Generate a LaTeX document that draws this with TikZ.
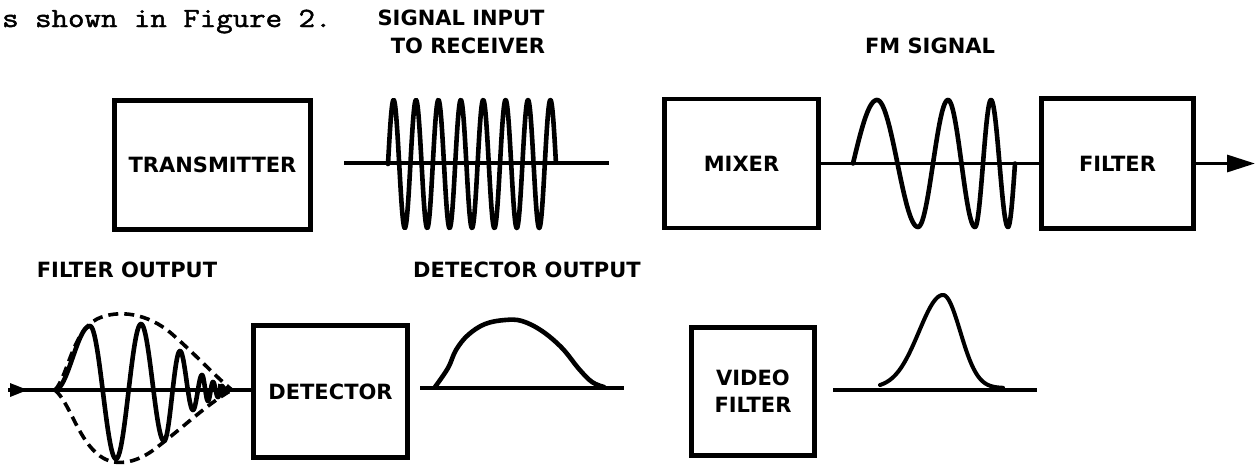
\documentclass[tikz,border=0pt]{standalone}
\usepackage{fontspec}
\usepackage{graphicx}
\newfontfamily\lblfont{DejaVu Sans}
\newfontfamily\introfont{Latin Modern Mono}[FakeBold=1.6]
\usetikzlibrary{arrows.meta}
\tikzset{
  lbl/.style={font=\lblfont\bfseries\fontsize{21}{27}\selectfont, inner sep=0pt},
  introtext/.style={font=\introfont\fontsize{27.8}{30}\selectfont, inner sep=0pt},
  blockbox/.style={draw, line width=4.6pt, inner sep=0pt, align=center,
    font=\lblfont\bfseries\fontsize{21}{27}\selectfont},
  wave/.style={line width=4.6pt, line join=round, line cap=round},
  thinwave/.style={line width=4pt, line join=round, line cap=round},
  baseln/.style={line width=3.2pt},
  envl/.style={line width=3.6pt, dash pattern=on 10pt off 6pt},
}
\begin{document}
\begin{tikzpicture}[x=1pt,y=-1pt]
\fill[white] (0,0) rectangle (1256,464);
\useasboundingbox (0,0) rectangle (1256,464);

% texts
\node[introtext, anchor=base west] (intro) at (2,27) {\scalebox{1.15}[1]{s shown in Figure 2.}};
\node[lbl, anchor=base] (lsig) at (461,25) {SIGNAL INPUT};
\node[lbl, anchor=base] (lrec) at (468,53) {TO RECEIVER};
\node[lbl, anchor=base] (lfm) at (930,53) {FM SIGNAL};
\node[lbl, anchor=base] (lfo) at (127,277) {FILTER OUTPUT};
\node[lbl, anchor=base] (ldo) at (527,277) {DETECTOR OUTPUT};

% boxes
\node[blockbox, minimum width=196pt, minimum height=129pt] (tx) at (212.5,165) {TRANSMITTER};
\node[blockbox, minimum width=154pt, minimum height=129pt] (mix) at (741.5,163.5) {MIXER};
\node[blockbox, minimum width=152pt, minimum height=130pt] (filt) at (1117.5,163.5) {FILTER};
\node[blockbox, minimum width=154pt, minimum height=132pt] (det) at (330.5,391.5) {DETECTOR};
\node[blockbox, minimum width=123pt, minimum height=128pt] (vid) at (753,391.5) {VIDEO\\FILTER};

% signal input to receiver
\coordinate (s1a) at (344,163);
\coordinate (s1b) at (609,163);
\draw[baseln] (s1a) -- (s1b);
\draw[wave] plot[domain=0:7.5,samples=600] ({388+22.4*\x},{164-64*sin(360*\x)});

% FM signal
\draw[baseln] (mix.east) -- (filt.west);
\draw[wave] (853,163.5) -- plot[domain=0:1,samples=30] ({853+24*\x},{163.5-63.5*sin(90*\x)})
  foreach \xa/\ya/\xb/\yb in {877/100/918/227, 918/227/948/100, 948/100/975/227, 975/227/991/100, 991/100/1008/227}
  { -- plot[domain=0:1,samples=40] ({\xa+(\xb-\xa)*\x},{(\ya+\yb)/2+(\ya-\yb)/2*cos(180*\x)}) }
  -- plot[domain=0:1,samples=20] ({1008+7*\x},{227-63.5*(1-cos(90*\x))});
\coordinate (outR) at (1255,163.5);
\draw[baseln,-{Triangle[length=28pt,width=17pt]}] (filt.east) -- (outR);

% filter output
\coordinate (tailL) at (8,390);
\coordinate (tipL) at (28,390);
\draw[baseln] (tailL) -- (tailL -| det.west);
\draw[baseln,-{Triangle[length=18pt,width=13pt]}] (tailL) -- (tipL);
\draw[wave] (55,390)
  foreach \xa/\ya/\xb/\yb in {55/390/90/326, 90/326/116/459, 116/459/141/324, 141/324/164/441,
     164/441/180/351, 180/351/193/410, 193/410/202/375, 202/375/208/401, 208/401/213/382,
     213/382/218/397, 218/397/222/386, 222/386/225/391}
  { -- plot[domain=0:1,samples=30] ({\xa+(\xb-\xa)*\x},{(\ya+\yb)/2+(\ya-\yb)/2*cos(180*\x)}) };
\coordinate (baseM) at (214,390);
\coordinate (tipM) at (235,390);
\draw[baseln,-{Triangle[length=17pt,width=12pt]}] (baseM) -- (tipM);
\draw[envl] (55,390) .. controls (68,376) and (72,332) .. (97,319)
   .. controls (118,309) and (148,313) .. (172,334)
   .. controls (195,354) and (215,376) .. (232,390);
\draw[envl] (55,390) .. controls (70,403) and (78,440) .. (100,456)
   .. controls (115,467) and (135,463) .. (152,451)
   .. controls (178,432) and (208,403) .. (232,390);

% detector output
\coordinate (doa) at (420,388);
\coordinate (dob) at (624,388);
\draw[baseln] (doa) -- (dob);
\draw[wave] plot[smooth, tension=0.6] coordinates {(435,387) (448,368) (456,350) (468,335) (485,324) (505,320) (522,321) (542,331) (562,348) (579,369) (592,382) (604,387)};

% video filter output
\coordinate (vba) at (833,390);
\coordinate (vbb) at (1037,390);
\draw[baseln] (vba) -- (vbb);
\draw[thinwave] plot[domain=880:943,samples=80] (\x,{388-93*exp(-(((\x-943)/34)^2))})
  -- plot[domain=943:1003,samples=80] (\x,{388-93*exp(-(((\x-943)/24.4)^2))});
\end{tikzpicture}
\end{document}
